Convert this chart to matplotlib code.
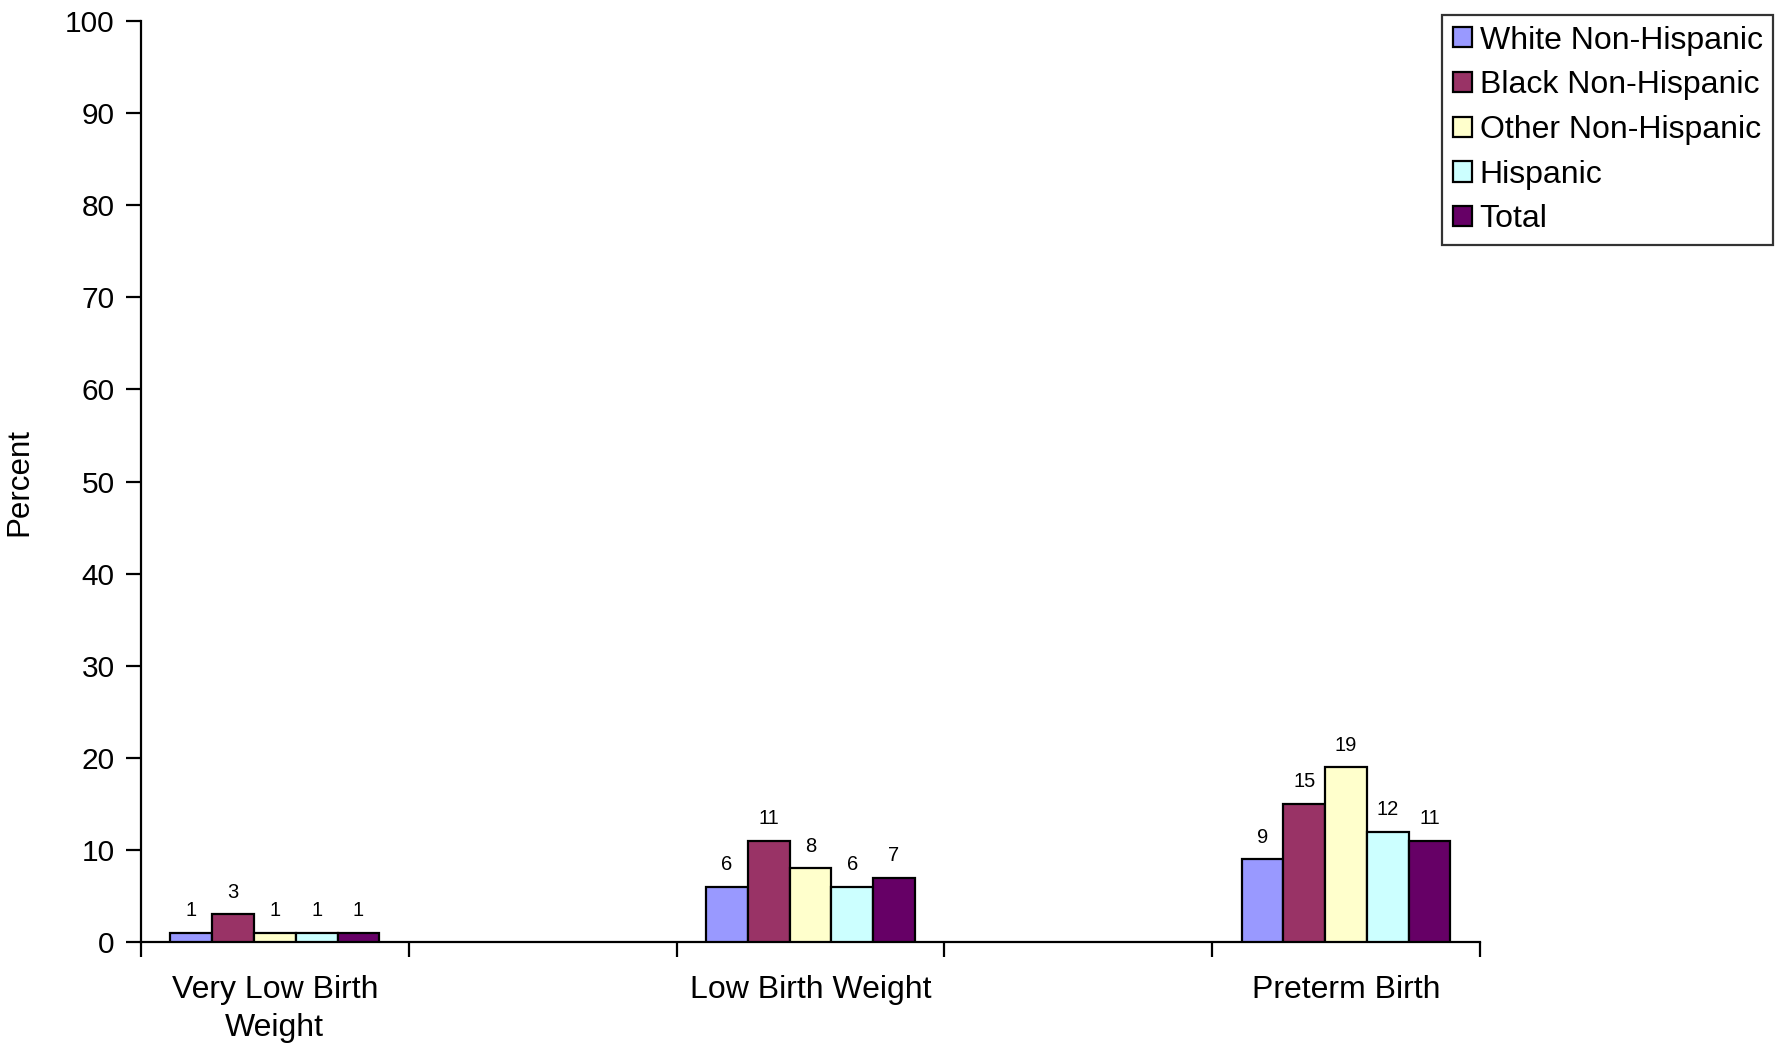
import numpy as np
import matplotlib
matplotlib.use("Agg")
from matplotlib import pyplot as plt

plt.rcParams['font.family'] = ['Liberation Sans', 'DejaVu Sans']

categories = ["Very Low Birth\nWeight", "Low Birth Weight", "Preterm Birth"]
series = ["White Non-Hispanic", "Black Non-Hispanic", "Other Non-Hispanic",
          "Hispanic", "Total"]
values = [
    [1, 6, 9],     # White Non-Hispanic
    [3, 11, 15],   # Black Non-Hispanic
    [1, 8, 19],    # Other Non-Hispanic
    [1, 6, 12],    # Hispanic
    [1, 7, 11],    # Total
]
colors = ["#9999FF", "#993366", "#FFFFCC", "#CCFFFF", "#660066"]
yticks = [0, 10, 20, 30, 40, 50, 60, 70, 80, 90, 100]

fig = plt.figure(figsize=(17.82, 10.48), dpi=100)
ax = fig.add_axes([0.0791, 0.1011, 0.7514, 0.8789])

# categories sit on every other slot (empty slots in between)
xpos = np.arange(len(categories)) * 2
nser = len(series)
width = 0.156

for i, name in enumerate(series):
    x = xpos + (i - (nser - 1) / 2) * width
    bars = ax.bar(x, values[i], width, color=colors[i], edgecolor="black",
                  linewidth=1.6, label=name, zorder=3)
    for b, v in zip(bars, values[i]):
        ax.annotate(str(v), (b.get_x() + b.get_width() / 2, b.get_height()),
                    xytext=(0, 9), textcoords="offset points",
                    ha="center", va="bottom", fontsize=14.5)

ax.set_xlim(-0.5, xpos[-1] + 0.5)
ax.set_ylim(0, 100)
ax.set_yticks(yticks)
ax.set_xticks(xpos)
ax.set_xticklabels(categories, fontsize=23, linespacing=1.35)
ax.set_xticks(np.arange(-0.5, xpos[-1] + 1.0, 1.0), minor=True)
ax.tick_params(axis="x", which="major", length=0, pad=24)
ax.tick_params(axis="x", which="minor", length=11, width=1.6, direction="out")
ax.tick_params(axis="y", labelsize=21.5, length=11, width=1.6, direction="out", pad=8)
ax.set_ylabel("Percent", fontsize=22.5, labelpad=22)

for s in ["top", "right"]:
    ax.spines[s].set_visible(False)
for s in ["left", "bottom"]:
    ax.spines[s].set_linewidth(1.6)

leg = ax.legend(loc="upper left", fontsize=23, frameon=True,
                fancybox=False, edgecolor="black", handlelength=0.6,
                handleheight=0.6, handletextpad=0.25, labelspacing=0.46,
                borderpad=0.33, borderaxespad=0)
leg.get_frame().set_linewidth(1.6)
# place legend box at its pixel spot
leg.set_bbox_to_anchor((1442 / 1782, 1 - 15 / 1048), transform=fig.transFigure)

plt.savefig("out.png", dpi=100)
